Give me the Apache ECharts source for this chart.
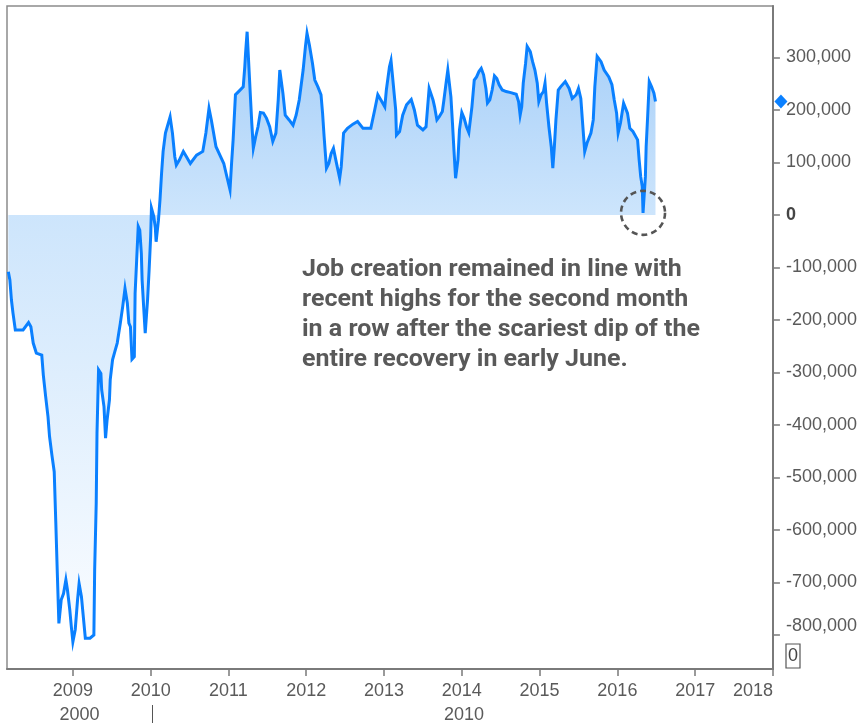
<!DOCTYPE html>
<html>
<head>
<meta charset="utf-8">
<script src="https://cdn.jsdelivr.net/npm/echarts@6/dist/echarts.min.js"></script>
<style>
html,body{margin:0;padding:0;background:#ffffff;}
#chart{width:860px;height:723px;}
</style>
</head>
<body>
<div id="chart"></div>
<script>
// Decimal-year positions of the line vertices
const years = [
  2008.17,2008.19,2008.21,2008.23,2008.26,2008.36,2008.43,2008.46,2008.49,2008.53,
  2008.60,2008.62,2008.65,2008.68,2008.70,2008.73,2008.76,2008.78,2008.80,2008.82,
  2008.85,2008.88,2008.91,2008.93,2008.96,2008.98,2009.00,2009.03,2009.06,2009.08,
  2009.11,2009.13,2009.16,2009.22,2009.27,2009.28,2009.30,2009.31,2009.33,2009.36,
  2009.37,2009.40,2009.42,2009.44,2009.47,2009.48,2009.51,2009.54,2009.57,2009.59,
  2009.61,2009.64,2009.67,2009.69,2009.70,2009.72,2009.74,2009.76,2009.79,2009.80,
  2009.82,2009.84,2009.86,2009.88,2009.89,2009.91,2009.93,2009.95,2009.96,2009.98,
  2010.00,2010.01,2010.04,2010.06,2010.07,2010.10,2010.12,
  2010.14,2010.16,2010.19,2010.25,2010.28,2010.31,2010.33,2010.37,2010.42,2010.46,
  2010.51,2010.59,2010.67,2010.71,2010.75,2010.78,2010.84,2010.89,2010.94,2010.97,
  2011.02,2011.04,2011.06,2011.09,2011.13,2011.19,2011.21,2011.22,2011.24,2011.26,
  2011.28,2011.30,2011.32,2011.35,2011.38,2011.41,2011.45,2011.49,2011.53,2011.57,
  2011.61,2011.64,2011.66,2011.68,2011.70,2011.73,2011.78,2011.83,2011.87,2011.91,
  2011.96,2011.99,2012.01,2012.04,2012.08,2012.11,2012.15,2012.19,2012.21,2012.23,
  2012.26,2012.29,2012.32,2012.35,2012.38,2012.43,2012.45,2012.48,2012.53,2012.60,
  2012.66,2012.73,2012.83,2012.88,2012.92,2012.96,2013.01,2013.03,2013.07,2013.09,
  2013.11,2013.15,2013.16,2013.20,2013.24,2013.29,2013.35,2013.39,2013.43,2013.50,
  2013.54,2013.58,
  2013.63,2013.65,2013.68,2013.71,2013.75,2013.77,2013.80,2013.82,2013.84,2013.86,
  2013.88,2013.90,2013.92,2013.93,2013.95,2013.97,2014.00,2014.03,2014.06,2014.09,
  2014.11,2014.13,2014.16,2014.19,2014.22,2014.25,2014.28,2014.31,2014.33,2014.36,
  2014.39,2014.42,2014.45,2014.48,2014.52,2014.57,2014.63,2014.70,2014.73,2014.75,
  2014.77,2014.79,2014.82,2014.84,2014.88,2014.91,2014.94,2014.97,2014.99,2015.02,
  2015.05,2015.07,2015.09,2015.12,2015.15,2015.17,2015.19,2015.21,2015.24,2015.27,
  2015.33,2015.38,2015.42,2015.47,2015.50,2015.53,2015.55,2015.58,2015.61,2015.66,
  2015.69,2015.71,2015.74,2015.79,2015.83,2015.89,2015.93,2015.96,2015.99,2016.01,
  2016.04,2016.08,2016.10,2016.13,2016.16,2016.20,2016.26,2016.28,2016.30,2016.32,
  2016.33,2016.36,2016.37,2016.39,2016.41,2016.44,2016.47,2016.49
];

// Job creation, thousands of jobs
const jobsK = [
  -108,-124,-162,-187,-219,-219,-205,-213,-244,-263,
  -267,-305,-346,-384,-422,-457,-489,-584,-683,-778,
  -733,-721,-695,-714,-752,-784,-813,-790,-733,-702,
  -727,-759,-806,-806,-800,-676,-549,-416,-295,-302,
  -333,-365,-425,-390,-352,-314,-276,-260,-244,-225,
  -206,-175,-140,-140,-168,-206,-213,-275,-270,-149,
  -86,-22,-29,-73,-124,-175,-225,-222,-162,-105,
  -41,13,-3,-25,-51,-10,29,
  79,121,156,187,156,111,95,105,121,111,
  98,114,121,156,203,181,130,114,98,79,
  48,98,143,229,235,244,282,308,349,346,
  232,175,127,149,168,195,194,184,168,140,
  156,219,276,273,232,190,181,171,190,219,
  276,321,346,324,289,257,244,229,194,149,
  89,98,117,127,105,70,92,156,165,173,
  178,165,165,200,229,219,206,238,282,294,
  263,200,152,159,190,210,220,200,171,162,
  168,241,
  219,206,181,187,197,219,254,276,273,225,
  175,121,70,73,105,162,195,184,168,157,
  181,206,257,263,273,279,267,241,213,219,
  238,265,260,248,238,235,233,230,216,190,
  206,251,289,321,311,292,276,251,216,229,
  235,251,213,168,130,89,130,181,238,244,
  254,241,222,229,241,222,181,121,137,156,
  181,244,302,292,276,263,248,219,194,156,
  175,213,216,194,165,159,143,105,73,54,
  4,73,130,190,254,244,232,216
];

const yearTicks = [2009, 2010, 2011, 2012, 2013, 2014, 2015, 2016, 2017, 2018];
const valueTicksK = [-800, -700, -600, -500, -400, -300, -200, -100, 0, 100, 200, 300];
const annotationLines = [
  'Job creation remained in line with',
  'recent highs for the second month',
  'in a row after the scariest dip of the',
  'entire recovery in early June.'
];

const FONT = "'Liberation Sans', Arial, sans-serif";
const LABEL_COLOR = '#5a5a5a';
const LABEL_SIZE = 18;

// locate the 2016 dip from the data itself
let dipIdx = 0;
for (let i = 0; i < years.length; i++) {
  if (years[i] > 2016 && (dipIdx === 0 || jobsK[i] < jobsK[dipIdx])) dipIdx = i;
}

const chart = echarts.init(document.getElementById('chart'), null, { renderer: 'canvas' });

const option = {
  animation: false,
  backgroundColor: '#ffffff',
  grid: {
    left: 7, right: 86, top: 6, bottom: 54,
    show: true, borderColor: '#8c8c8c', borderWidth: 1.5, backgroundColor: 'transparent'
  },
  xAxis: {
    type: 'value',
    min: 2008.153,
    max: 2018,
    splitLine: { show: false },
    axisLine: { show: true, onZero: false, lineStyle: { color: '#7a7a7a', width: 2 } },
    axisTick: { show: true, customValues: yearTicks, length: 7, lineStyle: { color: '#7a7a7a', width: 1.5 } },
    axisLabel: {
      customValues: yearTicks,
      margin: 13,
      color: LABEL_COLOR,
      fontSize: LABEL_SIZE,
      fontFamily: FONT,
      alignMaxLabel: 'right',
      formatter: function (v) { return String(Math.round(v)); }
    }
  },
  yAxis: {
    type: 'value',
    position: 'right',
    min: -864.8,
    max: 398,
    splitLine: { show: false },
    axisLine: { show: true, onZero: false, lineStyle: { color: '#7a7a7a', width: 2 } },
    axisTick: { show: true, customValues: valueTicksK, length: 7, lineStyle: { color: '#7a7a7a', width: 1.5 } },
    axisLabel: {
      customValues: valueTicksK,
      margin: 13,
      color: LABEL_COLOR,
      fontSize: LABEL_SIZE,
      fontFamily: FONT,
      verticalAlignMinLabel: 'bottom',
      formatter: function (v) {
        if (Math.round(v) === 0) return '{z|0}';
        return (Math.round(v) * 1000).toLocaleString('en-US');
      },
      rich: { z: { fontWeight: 'bold', color: '#444444', fontSize: LABEL_SIZE, fontFamily: FONT } }
    }
  },
  series: [{
    type: 'line',
    data: years.map(function (t, i) { return [t, jobsK[i]]; }),
    showSymbol: false,
    symbol: 'none',
    lineStyle: { color: '#0a80ff', width: 3, join: 'miter' },
    areaStyle: {
      origin: 0,
      opacity: 1,
      color: new echarts.graphic.LinearGradient(0, 30, 0, 645, [
        { offset: 0, color: '#a5cef8' },
        { offset: 0.30, color: '#cde5fc' },
        { offset: 1, color: '#fbfdff' }
      ], true)
    },
    markPoint: {
      silent: true,
      symbol: 'circle',
      symbolSize: 44,
      label: { show: false },
      itemStyle: { color: 'rgba(0,0,0,0)', borderColor: '#555555', borderWidth: 2.6, borderType: [6, 4] },
      data: [{ coord: [years[dipIdx], jobsK[dipIdx]] }]
    }
  }]
};

chart.setOption(option);

// Overlay annotations (diamond for last value computed through the axis scales)
const lastV = jobsK[jobsK.length - 1];
const dy = chart.convertToPixel({ yAxisIndex: 0 }, lastV);
const axisX = chart.convertToPixel({ xAxisIndex: 0 }, 2018);
const dx = axisX + 8;

chart.setOption({
  graphic: [
    {
      type: 'polygon',
      shape: { points: [[dx, dy - 7], [dx + 6.5, dy], [dx, dy + 7], [dx - 6.5, dy]] },
      style: { fill: '#0a80ff' },
      z: 10
    },
    {
      type: 'text',
      x: 302, y: 255,
      scaleY: 0.94,
      style: {
        text: annotationLines.join('\n'),
        font: "bold 25px Roboto, 'Liberation Sans', sans-serif",
        fill: '#595959',
        lineHeight: 32,
        verticalAlign: 'top',
        align: 'left'
      },
      z: 10
    },
    {
      type: 'text',
      x: 79.5, y: 715,
      style: { text: '2000', font: LABEL_SIZE + 'px ' + FONT, fill: LABEL_COLOR, align: 'center', verticalAlign: 'middle' }
    },
    {
      type: 'text',
      x: 464, y: 715,
      style: { text: '2010', font: LABEL_SIZE + 'px ' + FONT, fill: LABEL_COLOR, align: 'center', verticalAlign: 'middle' }
    },
    {
      type: 'line',
      shape: { x1: 152.5, y1: 705, x2: 152.5, y2: 723 },
      style: { stroke: '#555555', lineWidth: 1 }
    },
    {
      type: 'rect',
      shape: { x: 786, y: 644, width: 14, height: 24 },
      style: { fill: 'rgba(0,0,0,0)', stroke: '#555555', lineWidth: 1.2 }
    },
    {
      type: 'text',
      x: 793, y: 656,
      style: { text: '0', font: LABEL_SIZE + 'px ' + FONT, fill: '#444444', align: 'center', verticalAlign: 'middle' }
    }
  ]
});
</script>
</body>
</html>
